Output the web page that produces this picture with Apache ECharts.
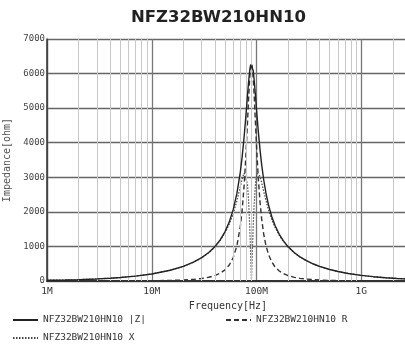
<!DOCTYPE html>
<html>
<head>
<meta charset="utf-8">
<script src="https://cdn.jsdelivr.net/npm/echarts@6/dist/echarts.min.js"></script>
<style>html,body{margin:0;padding:0;background:#fff}#c{width:405px;height:349px}</style>
</head>
<body>
<div id="c"></div>
<script>
// Frequencies in MHz
const freqMHz = [1, 1.5, 2, 3, 4, 5, 7, 10, 15, 20, 25, 30, 35, 40, 45, 50, 55, 60, 65, 70, 73, 76, 79, 82, 84, 86, 88, 89.5, 91, 93, 95, 98, 101, 104, 108, 112, 117, 123, 130, 140, 150, 165, 180, 200, 230, 260, 300, 350, 400, 500, 600, 750, 1000, 1300, 1700, 2200, 3000];
// |Z| [ohm]
const zMag = [20, 30, 40, 60, 81, 101, 142, 204, 310, 422, 543, 676, 824, 993, 1190, 1424, 1710, 2070, 2533, 3142, 3600, 4135, 4740, 5370, 5757, 6068, 6256, 6300, 6258, 6085, 5813, 5316, 4804, 4334, 3799, 3365, 2936, 2546, 2206, 1859, 1612, 1351, 1168, 995, 818, 699, 587, 491, 423, 332, 274, 218, 162, 125, 95, 73, 54];
// R [ohm]
const rVal = [0, 0, 0, 1, 1, 2, 3, 7, 15, 28, 47, 72, 108, 156, 225, 322, 464, 680, 1019, 1568, 2057, 2714, 3566, 4577, 5260, 5844, 6213, 6300, 6216, 5876, 5364, 4486, 3664, 2982, 2291, 1797, 1369, 1029, 773, 549, 412, 290, 217, 157, 106, 77, 55, 38, 28, 17, 12, 8, 4, 2, 1, 1, 0];
// X [ohm]
const xVal = [20, 30, 40, 60, 81, 101, 142, 204, 310, 421, 541, 672, 817, 980, 1168, 1387, 1646, 1955, 2319, 2724, 2954, 3120, 3123, 2808, 2338, 1632, 735, 0, 723, 1578, 2240, 2853, 3108, 3146, 3031, 2845, 2598, 2329, 2067, 1777, 1558, 1320, 1148, 982, 811, 694, 584, 490, 422, 332, 274, 218, 162, 125, 95, 73, 54];

const tickValues = [1e6, 1e7, 1e8, 1e9, 1e10];
const tickLabels = ['1M', '10M', '100M', '1G', '10G'];
const minorGrid = [2e6,3e6,4e6,5e6,6e6,7e6,8e6,9e6, 2e7,3e7,4e7,5e7,6e7,7e7,8e7,9e7, 2e8,3e8,4e8,5e8,6e8,7e8,8e8,9e8, 2e9,3e9,4e9,5e9,6e9,7e9,8e9,9e9];

const names = ['NFZ32BW210HN10 |Z|', 'NFZ32BW210HN10 R', 'NFZ32BW210HN10 X'];

const pairs = arr => freqMHz.map((f, i) => [f * 1e6, arr[i]]);
const mono = 'DejaVu Sans Mono';
const legendCommon = {
  itemWidth: 25, itemHeight: 12,
  itemStyle: {color: 'transparent', borderWidth: 0, opacity: 0},
  textStyle: {fontFamily: mono, fontSize: 9.5, color: '#333'}
};

const chart = echarts.init(document.getElementById('c'), null, {renderer: 'canvas'});
chart.setOption({
  animation: false,
  backgroundColor: '#fff',
  title: {
    text: 'NFZ32BW210HN10', left: 126, top: 4,
    textStyle: {fontFamily: 'DejaVu Sans', fontWeight: 'bold', fontSize: 16.5, color: '#222'}
  },
  grid: {left: 47, top: 39, bottom: 68, right: -61, containLabel: false, outerBoundsMode: 'none'},
  xAxis: {
    type: 'log', min: 1e6, max: 1e10, logBase: 10,
    name: 'Frequency[Hz]', nameLocation: 'middle', nameGap: 15,
    nameTextStyle: {fontFamily: mono, fontSize: 10, color: '#333', padding: [0, 57, 0, 0]},
    axisLine: {show: true, lineStyle: {color: '#333', width: 2}},
    axisTick: {show: false},
    axisLabel: {
      fontFamily: mono, fontSize: 9.5, color: '#333', margin: 6,
      formatter: v => { const i = tickValues.indexOf(v); return i >= 0 ? tickLabels[i] : ''; }
    },
    splitLine: {show: true, lineStyle: {color: '#777', width: 1.3}},
    minorTick: {show: false},
    minorSplitLine: {show: false}
  },
  yAxis: {
    type: 'value', min: 0, max: 7000, interval: 1000,
    name: 'Impedance[ohm]', nameLocation: 'middle', nameGap: 32, nameRotate: 90,
    nameTextStyle: {fontFamily: mono, fontSize: 10, color: '#555'},
    axisLine: {show: true, lineStyle: {color: '#333', width: 1.5}},
    axisTick: {show: false},
    axisLabel: {fontFamily: mono, fontSize: 9, color: '#444', margin: 2, formatter: v => String(v)},
    splitLine: {show: true, lineStyle: {color: '#666', width: 1.3}}
  },
  legend: [
    Object.assign({left: 7, top: 310, data: [names[0]]}, legendCommon),
    Object.assign({left: 220, top: 310, data: [names[1]]}, legendCommon),
    Object.assign({left: 7, top: 328, data: [names[2]]}, legendCommon)
  ],
  series: [
    {
      name: 'minor', type: 'line', data: [], z: -1, silent: true,
      markLine: {
        silent: true, symbol: 'none', label: {show: false}, animation: false,
        lineStyle: {color: '#c8c8c8', width: 1, type: 'solid'},
        data: minorGrid.map(v => ({xAxis: v}))
      }
    },
    {name: names[0], type: 'line', data: pairs(zMag), symbol: 'none', z: 5,
     lineStyle: {color: '#222', width: 1.4, type: 'solid'}, itemStyle: {color: '#222'}},
    {name: names[1], type: 'line', data: pairs(rVal), symbol: 'none', z: 4,
     lineStyle: {color: '#333', width: 1.4, type: [5, 3]}, itemStyle: {color: '#333'}},
    {name: names[2], type: 'line', data: pairs(xVal), symbol: 'none', z: 3,
     lineStyle: {color: '#444', width: 1.2, type: [1.5, 1.5]}, itemStyle: {color: '#444'}}
  ]
});
</script>
</body>
</html>
